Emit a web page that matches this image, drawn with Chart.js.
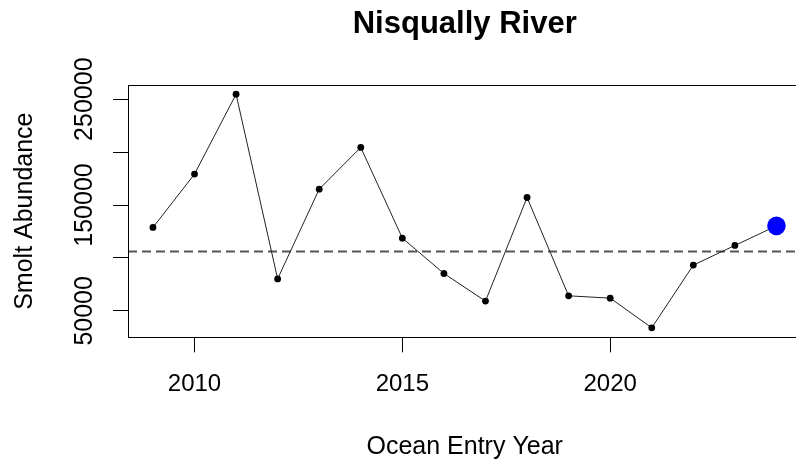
<!DOCTYPE html>
<html>
<head>
<meta charset="utf-8">
<title>Nisqually River</title>
<script src="https://cdn.jsdelivr.net/npm/chart.js@4.4.1/dist/chart.umd.min.js"></script>
<style>
  html, body { margin:0; padding:0; background:#fff; overflow:hidden; }
</style>
</head>
<body>
<canvas id="chart" width="804" height="462"></canvas>
<script>
// values
const years  = [2009, 2010, 2011, 2012, 2013, 2014, 2015, 2016, 2017, 2018, 2019, 2020, 2021, 2022, 2023, 2024];
const smolts = [128800, 179200, 254700, 80200, 165000, 204400, 118700, 85300, 59200, 157100, 64200, 62000, 34000, 93200, 111800, 130300];
const refLine = 106400;           // dashed horizontal line
const xTicks = [2010, 2015, 2020];
const yTicks = [50000, 100000, 150000, 200000, 250000];
const yTickLabels = ['50000', '', '150000', '', '250000'];
const xRange = [2008.4, 2024.6];
const yRange = [25000, 263400];

const FONT = "'Liberation Sans', Arial, sans-serif";
const lastIdx = years.length - 1;

// box, dashed line and rotated y labels (R style)
const rPlot = {
  id: 'rPlot',
  beforeDatasetsDraw(chart){
    const {ctx, chartArea:a, scales} = chart;
    const y = Math.round(scales.y.getPixelForValue(refLine)) + 0.5;
    ctx.save();
    ctx.strokeStyle = '#555';
    ctx.lineWidth = 2;
    ctx.setLineDash([9, 5]);
    ctx.beginPath(); ctx.moveTo(a.left, y); ctx.lineTo(a.right, y); ctx.stroke();
    ctx.restore();
  },
  afterDraw(chart){
    const {ctx, chartArea:a, scales} = chart;
    ctx.save();
    ctx.strokeStyle = '#000';
    ctx.lineWidth = 1;
    ctx.strokeRect(Math.round(a.left)+0.5, Math.round(a.top)+0.5, Math.round(a.right-a.left), Math.round(a.bottom-a.top));
    // y tick labels, parallel to axis
    ctx.fillStyle = '#000';
    ctx.font = '25px ' + FONT;
    ctx.textAlign = 'center';
    ctx.textBaseline = 'alphabetic';
    scales.y.ticks.forEach(t => {
      if(!t.label) return;
      const py = scales.y.getPixelForValue(t.value);
      ctx.save();
      ctx.translate(92, py);
      ctx.rotate(-Math.PI/2);
      ctx.fillText(t.label, 0, 0);
      ctx.restore();
    });
    ctx.restore();
  }
};

new Chart(document.getElementById('chart'), {
  type: 'line',
  data: {
    datasets: [{
      data: years.map((yr, i) => ({x: yr, y: smolts[i]})),
      borderColor: '#222',
      borderWidth: 1,
      tension: 0,
      pointRadius: c => c.dataIndex === lastIdx ? 9.3 : 3.4,
      pointBackgroundColor: c => c.dataIndex === lastIdx ? '#0000ff' : '#000',
      pointBorderWidth: 0,
      clip: false
    }]
  },
  options: {
    responsive: false,
    animation: false,
    devicePixelRatio: 1,
    layout: { autoPadding: false, padding: { left: 0, top: 0, right: 2.6, bottom: 0 } },
    plugins: {
      legend: { display: false },
      tooltip: { enabled: false },
      title: {
        display: true,
        text: 'Nisqually River',
        fullSize: false,
        color: '#000',
        font: { family: FONT, size: 31, weight: 'bold' },
        padding: { top: 5.8, bottom: 42 }
      }
    },
    scales: {
      x: {
        type: 'linear',
        min: xRange[0], max: xRange[1],
        afterBuildTicks: s => { s.ticks = xTicks.map(v => ({value: v})); },
        afterFit: s => { s.height = 124.7; },
        grid: { drawOnChartArea: false, drawTicks: true, tickLength: 15, color: '#000', lineWidth: 1 },
        border: { display: false },
        ticks: { color: '#000', font: { family: FONT, size: 24 }, padding: 18, maxRotation: 0, callback: v => String(v) },
        title: { display: true, text: 'Ocean Entry Year', color: '#000', font: { family: FONT, size: 25 }, padding: { top: 0, bottom: 0 } }
      },
      y: {
        type: 'linear',
        min: yRange[0], max: yRange[1],
        afterBuildTicks: s => { s.ticks = yTicks.map(v => ({value: v})); },
        afterFit: s => { s.width = 128; },
        grid: { drawOnChartArea: false, drawTicks: true, tickLength: 15, color: '#000', lineWidth: 1 },
        border: { display: false },
        ticks: { display: false, callback: (v, i) => yTickLabels[i] },
        title: { display: true, text: 'Smolt Abundance', color: '#000', font: { family: FONT, size: 25 }, padding: { top: 10, bottom: 0 } }
      }
    }
  },
  plugins: [rPlot]
});
</script>
</body>
</html>
